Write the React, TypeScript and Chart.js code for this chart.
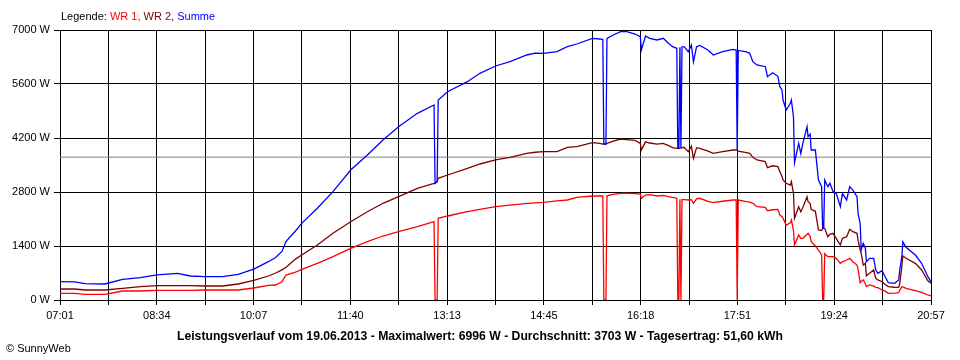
import { useEffect, useRef } from "react";
import { Chart, registerables } from "chart.js";

Chart.register(...registerables);

// Minutes since midnight of each reading
const TIMES = [
  421, 435, 445, 464, 481, 498, 514, 534, 546, 560, 577, 592, 607, 621, 628, 634, 638, 647, 653, 668,
  683, 700, 716, 731, 746, 764, 780, 781, 783, 784, 793, 812, 824, 839, 853, 869, 877, 885, 898, 908,
  917, 932, 939, 942, 943, 945, 946, 952, 959, 965, 973, 978, 979, 983, 987, 994, 1000, 1005, 1009, 1013,
  1014, 1015, 1016, 1017, 1018, 1020, 1024, 1027, 1029, 1032, 1035, 1043, 1048, 1057, 1067, 1070, 1071, 1072, 1080, 1083,
  1086, 1090, 1098, 1100, 1105, 1110, 1112, 1114, 1115, 1118, 1122, 1123, 1125, 1126, 1130, 1132, 1134, 1138, 1139, 1141,
  1142, 1146, 1149, 1152, 1153, 1154, 1155, 1158, 1160, 1163, 1166, 1170, 1172, 1176, 1179, 1182, 1186, 1187, 1189, 1190,
  1192, 1194, 1195, 1198, 1202, 1204, 1206, 1210, 1213, 1216, 1222, 1226, 1227, 1229, 1230, 1233, 1242, 1248, 1254, 1257,
];

const WR1 = [
  173, 173, 147, 147, 233, 233, 251, 251, 251, 259, 259, 259, 311, 380, 389, 474, 648, 720, 796, 951,
  1123, 1340, 1511, 1659, 1771, 1900, 2030, 0, 0, 2118, 2178, 2290, 2351, 2419, 2460, 2507, 2520, 2533, 2570, 2593,
  2663, 2696, 2696, 2696, 0, 0, 2700, 2740, 2766, 2770, 2760, 2748, 2637, 2722, 2730, 2696, 2710, 2680, 2663, 2640,
  0, 0, 2611, 0, 2600, 2600, 2593, 2600, 2507, 2620, 2637, 2560, 2523, 2560, 2593, 2593, 0, 2590, 2549, 2540,
  2507, 2419, 2403, 2315, 2340, 2351, 2204, 2160, 2118, 1944, 2000, 2074, 1800, 1426, 1685, 1600, 1599, 1700, 1729, 1650,
  1512, 1400, 1296, 1167, 0, 0, 1200, 1123, 1123, 1123, 1080, 951, 990, 1037, 1081, 993, 907, 800, 449, 480,
  519, 420, 346, 389, 360, 330, 320, 259, 230, 173, 180, 190, 250, 346, 340, 303, 242, 200, 130, 104,
];

const WR2 = [
  285, 285, 259, 259, 303, 345, 371, 371, 371, 363, 363, 415, 510, 622, 700, 780, 850, 1060, 1167, 1426,
  1729, 2030, 2289, 2507, 2678, 2896, 3025, 3025, 3067, 3155, 3241, 3414, 3526, 3630, 3700, 3803, 3830, 3845, 3845, 3959,
  3974, 4078, 4062, 4044, 4044, 4044, 4060, 4120, 4174, 4160, 4140, 4062, 3889, 4100, 4070, 4040, 4060, 4000, 3950, 3933,
  3933, 3933, 3940, 3940, 3950, 3959, 3845, 3990, 3674, 3950, 3933, 3860, 3803, 3845, 3889, 3889, 3889, 3860, 3820, 3803,
  3700, 3630, 3586, 3430, 3480, 3456, 3326, 3200, 3111, 3025, 2981, 3067, 2766, 2118, 2419, 2289, 2400, 2678, 2550, 2507,
  2350, 2300, 1815, 1800, 1859, 1859, 1859, 1641, 1700, 1729, 1600, 1426, 1600, 1640, 1833, 1771, 1729, 1550, 1300, 1210,
  907, 951, 622, 692, 778, 562, 520, 474, 400, 346, 330, 328, 433, 864, 1141, 1081, 951, 778, 500, 433,
];

const SUMME = [
  474, 470, 423, 415, 537, 580, 650, 692, 622, 604, 604, 666, 800, 993, 1100, 1260, 1520, 1790, 1988, 2377,
  2808, 3370, 3760, 4150, 4493, 4840, 5056, 3025, 3067, 5185, 5400, 5660, 5877, 6067, 6178, 6352, 6400, 6396, 6440, 6567,
  6637, 6784, 6767, 6750, 4044, 4044, 6784, 6870, 6956, 6956, 6896, 6826, 6481, 6844, 6784, 6741, 6784, 6655, 6567, 6525,
  3933, 3933, 6550, 3940, 6560, 6567, 6438, 6611, 6178, 6567, 6600, 6481, 6352, 6438, 6498, 6481, 3889, 6470, 6430, 6396,
  6178, 6093, 6049, 5790, 5893, 5800, 5530, 5444, 5185, 4926, 5099, 5185, 4752, 3560, 4062, 3800, 4062, 4493, 4234, 4300,
  3889, 3889, 3111, 2938, 1859, 1859, 3111, 2938, 3025, 2808, 2766, 2419, 2766, 2593, 2938, 2850, 2678, 2248, 1988, 1300,
  1470, 1340, 993, 1081, 1081, 778, 692, 760, 604, 449, 433, 519, 778, 1123, 1512, 1365, 1167, 951, 604, 474,
];

const X_LABELS = ["07:01", "08:34", "10:07", "11:40", "13:13", "14:45", "16:18", "17:51", "19:24", "20:57"];
const Y_TICKS = [0, 1400, 2800, 4200, 5600, 7000];
const AVERAGE_W = 3703;

const TITLE =
  "Leistungsverlauf vom 19.06.2013 - Maximalwert: 6996 W - Durchschnitt: 3703 W - Tagesertrag: 51,60 kWh";

const FONT = "'Liberation Sans', Arial, sans-serif";

const toMin = (s: string) => {
  const [h, m] = s.split(":").map(Number);
  return h * 60 + m;
};

export default function App() {
  const ref = useRef<HTMLCanvasElement | null>(null);

  useEffect(() => {
    if (!ref.current) return;
    const xMin = toMin(X_LABELS[0]);
    const xMax = toMin(X_LABELS[X_LABELS.length - 1]);
    const nIntervals = (X_LABELS.length - 1) * 2;
    const pts = (arr: number[]) => TIMES.map((t, i) => ({ x: t, y: arr[i] }));

    const chart = new Chart(ref.current, {
      type: "line",
      data: {
        datasets: [
          { label: "Summe", data: pts(SUMME), borderColor: "#0000ff", order: 0 },
          { label: "WR 2", data: pts(WR2), borderColor: "#800000", order: 1 },
          { label: "WR 1", data: pts(WR1), borderColor: "#ff0000", order: 2 },
          {
            label: "Durchschnitt",
            data: [
              { x: xMin, y: AVERAGE_W },
              { x: xMax, y: AVERAGE_W },
            ],
            borderColor: "#808080",
            borderWidth: 1,
            order: 3,
          },
        ],
      },
      options: {
        animation: false,
        responsive: false,
        devicePixelRatio: 1,
        elements: {
          line: { borderWidth: 1.3, tension: 0, fill: false },
          point: { radius: 0, hoverRadius: 0 },
        },
        plugins: { legend: { display: false }, tooltip: { enabled: false } },
        layout: { padding: { top: 30, right: 29, left: 0, bottom: 0 } },
        scales: {
          x: {
            type: "linear",
            min: xMin,
            max: xMax,
            afterBuildTicks: (s: any) => {
              s.ticks = Array.from({ length: nIntervals + 1 }, (_, i) => ({
                value: xMin + (i * (xMax - xMin)) / nIntervals,
              }));
            },
            afterFit: (s: any) => {
              s.height = 60;
            },
            ticks: {
              autoSkip: false,
              maxRotation: 0,
              minRotation: 0,
              color: "#000",
              padding: 4,
              font: { family: FONT, size: 11 },
              callback: (_v: any, i: number) => (i % 2 === 0 ? X_LABELS[i / 2] : ""),
            },
            grid: { color: "#000", lineWidth: 1, tickLength: 5 },
            border: { color: "#000", width: 1 },
          },
          y: {
            min: 0,
            max: 7000,
            afterBuildTicks: (s: any) => {
              s.ticks = Y_TICKS.map((v) => ({ value: v }));
            },
            afterFit: (s: any) => {
              s.width = 60;
            },
            ticks: {
              color: "#000",
              padding: 4,
              font: { family: FONT, size: 11 },
              callback: (v: any) => `${v} W`,
            },
            grid: { color: "#000", lineWidth: 1, tickLength: 6 },
            border: { color: "#000", width: 1 },
          },
        },
      },
    });
    return () => chart.destroy();
  }, []);

  const txt: any = {
    position: "absolute",
    fontFamily: FONT,
    fontSize: 11,
    lineHeight: "12px",
    whiteSpace: "nowrap",
    color: "#000",
  };

  return (
    <div
      style={{
        position: "fixed",
        left: 0,
        top: 0,
        width: 960,
        height: 360,
        background: "#fff",
        overflow: "hidden",
      }}
    >
      <canvas ref={ref} width={960} height={360} style={{ display: "block", width: 960, height: 360 }} />
      <div style={{ ...txt, left: 61, top: 10 }}>
        Legende: <span style={{ color: "#ff0000" }}>WR 1,</span>{" "}
        <span style={{ color: "#800000" }}>WR 2,</span>{" "}
        <span style={{ color: "#0000ff" }}>Summe</span>
      </div>
      <div
        style={{
          ...txt,
          left: 0,
          width: 960,
          textAlign: "center",
          top: 330,
          fontSize: 12.2,
          lineHeight: "13px",
          fontWeight: "bold",
        }}
      >
        {TITLE}
      </div>
      <div style={{ ...txt, left: 6, top: 342 }}>© SunnyWeb</div>
    </div>
  );
}
